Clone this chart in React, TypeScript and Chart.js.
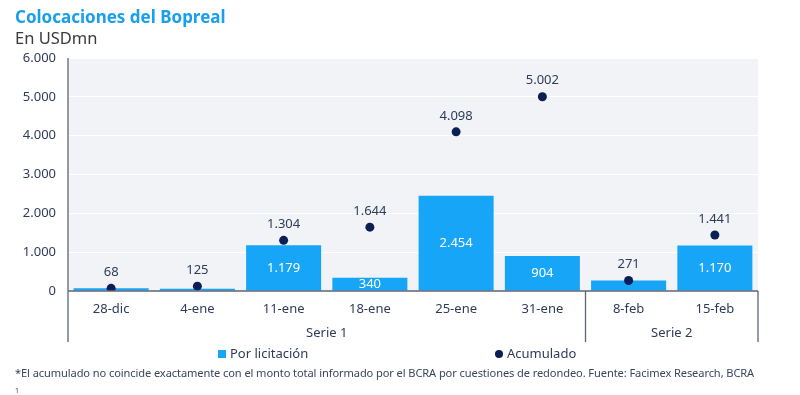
import React, { useEffect, useRef } from 'react';
import { Chart, registerables } from 'chart.js';

Chart.register(...registerables);

const categories = ['28-dic', '4-ene', '11-ene', '18-ene', '25-ene', '31-ene', '8-feb', '15-feb'];
const porLicitacion = [68, 57, 1179, 340, 2454, 904, 271, 1170];
const acumulado = [68, 125, 1304, 1644, 4098, 5002, 271, 1441];
const barLabelMin = 300;
const groups = [
  { label: 'Serie 1', start: 0, end: 5 },
  { label: 'Serie 2', start: 6, end: 7 },
];
const seriesNames = ['Por licitación', 'Acumulado'];

const FONT = '"Noto Sans", sans-serif';
const BAR_COLOR = '#17a5f7';
const DOT_COLOR = '#0b1f55';
const TEXT_COLOR = '#2f3b59';
const AXIS_COLOR = '#5d6579';
const BG_COLOR = '#f1f3f7';

function fmt(v: number): string {
  return String(Math.round(v)).replace(/\B(?=(\d{3})+(?!\d))/g, '.');
}

const customPlugin = {
  id: 'custom',
  beforeDraw(chart: any) {
    const { ctx, chartArea } = chart;
    ctx.save();
    ctx.fillStyle = BG_COLOR;
    ctx.fillRect(chartArea.left, chartArea.top, chartArea.right - chartArea.left, chartArea.bottom - chartArea.top);
    ctx.restore();
  },
  afterDraw(chart: any) {
    const { ctx, chartArea } = chart;
    const x = chart.scales.x;
    const bottomExt = chartArea.bottom + 51;
    ctx.save();
    // axis lines
    ctx.strokeStyle = AXIS_COLOR;
    ctx.lineWidth = 1.3;
    ctx.beginPath();
    ctx.moveTo(chartArea.left, chartArea.top);
    ctx.lineTo(chartArea.left, bottomExt);
    ctx.moveTo(chartArea.left, chartArea.bottom);
    ctx.lineTo(chartArea.right, chartArea.bottom);
    ctx.stroke();
    // group separators and labels
    const step = x.getPixelForValue(1) - x.getPixelForValue(0);
    ctx.font = `13px ${FONT}`;
    ctx.fillStyle = TEXT_COLOR;
    ctx.textAlign = 'center';
    ctx.textBaseline = 'middle';
    groups.forEach((g) => {
      const l = x.getPixelForValue(g.start) - step / 2;
      const r = x.getPixelForValue(g.end) + step / 2;
      ctx.beginPath();
      ctx.moveTo(r, chartArea.bottom);
      ctx.lineTo(r, bottomExt);
      ctx.stroke();
      ctx.fillText(g.label, (l + r) / 2, chartArea.bottom + 42);
    });
    // data labels
    const barMeta = chart.getDatasetMeta(0);
    const dotMeta = chart.getDatasetMeta(1);
    ctx.font = `13px ${FONT}`;
    barMeta.data.forEach((el: any, i: number) => {
      const v = porLicitacion[i];
      if (v < barLabelMin) return;
      ctx.fillStyle = '#ffffff';
      ctx.fillText(fmt(v), el.x, (el.y + el.base) / 2);
    });
    dotMeta.data.forEach((el: any, i: number) => {
      ctx.fillStyle = TEXT_COLOR;
      ctx.fillText(fmt(acumulado[i]), el.x, el.y - 16);
    });
    // legend
    const ly = chartArea.bottom + 63;
    ctx.textAlign = 'left';
    ctx.fillStyle = BAR_COLOR;
    ctx.fillRect(218, ly - 4, 8, 8);
    ctx.fillStyle = TEXT_COLOR;
    ctx.fillText(seriesNames[0], 230, ly);
    ctx.fillStyle = DOT_COLOR;
    ctx.beginPath();
    ctx.arc(499, ly, 4, 0, Math.PI * 2);
    ctx.fill();
    ctx.fillStyle = TEXT_COLOR;
    ctx.fillText(seriesNames[1], 507, ly);
    ctx.restore();
  },
};

export default function App() {
  const ref = useRef<HTMLCanvasElement>(null);
  useEffect(() => {
    if (!ref.current) return;
    const chart = new Chart(ref.current, {
      type: 'bar',
      data: {
        labels: categories,
        datasets: [
          {
            type: 'bar',
            label: seriesNames[0],
            data: porLicitacion,
            backgroundColor: BAR_COLOR,
            barPercentage: 0.87,
            categoryPercentage: 1,
            order: 2,
          },
          {
            type: 'line',
            label: seriesNames[1],
            data: acumulado,
            showLine: false,
            pointRadius: 4.5,
            pointBackgroundColor: DOT_COLOR,
            pointBorderWidth: 0,
            order: 1,
          },
        ],
      } as any,
      options: {
        animation: false,
        responsive: false,
        layout: { padding: { left: 0, top: 58, right: 42, bottom: 0 } },
        plugins: { legend: { display: false }, tooltip: { enabled: false } },
        scales: {
          x: {
            grid: { display: false },
            border: { display: false },
            ticks: { font: { family: FONT, size: 13 }, color: TEXT_COLOR, padding: 2 },
            afterFit: (s: any) => { s.height = 104; },
          },
          y: {
            min: 0,
            max: 6000,
            ticks: {
              stepSize: 1000,
              callback: (v: any) => fmt(Number(v)),
              font: { family: FONT, size: 13 },
              color: TEXT_COLOR,
              padding: 12,
            },
            grid: { color: '#ffffff', lineWidth: 1, drawTicks: false },
            border: { display: false },
            afterFit: (s: any) => { s.width = 68; },
          },
        },
      } as any,
      plugins: [customPlugin],
    });
    return () => chart.destroy();
  }, []);

  return (
    <div style={{ position: 'fixed', left: 0, top: 0, width: 800, height: 395, background: '#fff', fontFamily: FONT, overflow: 'hidden' }}>
      <canvas ref={ref} width={800} height={395} style={{ position: 'absolute', left: 0, top: 0 }} />
      <div style={{ position: 'absolute', left: 15, top: 5, fontSize: 17, fontWeight: 700, color: '#1a9fea', whiteSpace: 'nowrap' }}>
        Colocaciones del Bopreal
      </div>
      <div style={{ position: 'absolute', left: 15, top: 26, fontSize: 16.5, color: '#3a3a3a', whiteSpace: 'nowrap' }}>
        En USDmn
      </div>
      <div style={{ position: 'absolute', left: 15, top: 365, fontSize: 11.1, color: '#3a4560', whiteSpace: 'nowrap', letterSpacing: -0.1 }}>
        *El acumulado no coincide exactamente con el monto total informado por el BCRA por cuestiones de redondeo. Fuente: Facimex Research, BCRA
      </div>
      <div style={{ position: 'absolute', left: 15, top: 386, fontSize: 7, color: '#3a4560' }}>1</div>
    </div>
  );
}
